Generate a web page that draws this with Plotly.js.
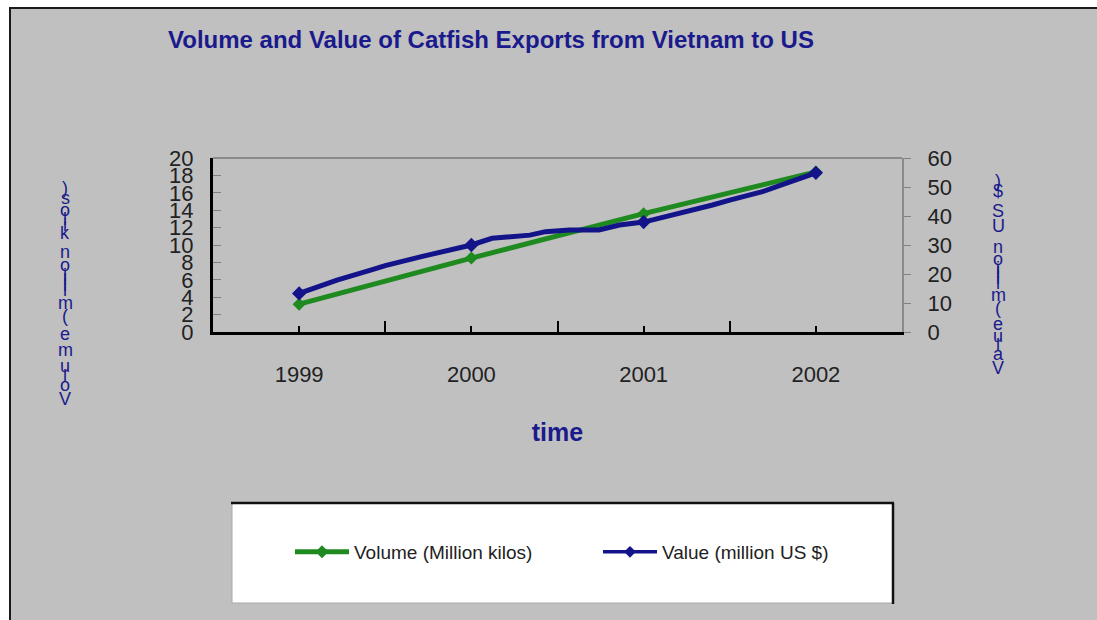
<!DOCTYPE html>
<html>
<head>
<meta charset="utf-8">
<script src="https://cdn.plot.ly/plotly-3.0.1.min.js"></script>
<style>
  html, body { margin: 0; padding: 0; background: #ffffff; }
  #chart { width: 1097px; height: 620px; }
</style>
</head>
<body>
<div id="chart"></div>
<script>
// ---------------- data ----------------
const years = [1999, 2000, 2001, 2002];
const yearLabels = ['1999', '2000', '2001', '2002'];
const volume = [3.2, 8.5, 13.6, 18.4];               // million kilos (left axis)
const valueTime = [1999.0, 1999.22, 1999.42, 1999.5, 1999.71, 2000.0, 2000.12, 2000.22,
                   2000.34, 2000.43, 2000.57, 2000.74, 2000.86, 2001.0, 2001.21, 2001.4,
                   2001.5, 2001.69, 2001.83, 2002.0];
const value = [13.3, 17.9, 21.4, 22.9, 26.0, 30.0, 32.3, 32.9, 33.4, 34.6, 35.2, 35.2,
               36.9, 37.9, 40.9, 43.8, 45.5, 48.4, 51.3, 54.9];  // million US $ (right axis)
const volumeName = 'Volume (Million kilos)';
const valueName = 'Value (million US $)';
const chartTitle = 'Volume and Value of Catfish Exports from Vietnam to US';
const xTitle = 'time';
const leftLabel = 'Volume (million kilos)';
const rightLabel = 'Value (million US $)';

// ---------------- geometry helpers ----------------
const W = 1097, H = 620;
const M = {l: 213, r: 195, t: 158, b: 288};
const PW = W - M.l - M.r, PH = H - M.t - M.b;
const px2x = p => (p - M.l) / PW;
const py2y = p => (H - M.b - p) / PH;

const GREEN = '#1f8a1f';
const BLUE = '#14148a';
const NAVY = '#1a1a8c';

// stacked (upright) glyphs running bottom-to-top, like the reference axis labels
const cvs = document.createElement('canvas').getContext('2d');
cvs.font = '100px "Liberation Sans"';
function glyphStack(text, cx, yStart, yEnd) {
  const chars = Array.from(text);
  const widths = chars.map(c => cvs.measureText(c).width);
  const total = widths.reduce((a, b) => a + b, 0);
  const k = (yStart - yEnd) / total;
  let cum = 0;
  const out = [];
  chars.forEach((c, i) => {
    const mid = yStart - (cum + widths[i] / 2) * k;
    cum += widths[i];
    if (c.trim() === '') return;
    out.push({
      text: c, xref: 'paper', yref: 'paper', x: px2x(cx), y: py2y(mid),
      xanchor: 'center', yanchor: 'middle', showarrow: false,
      font: {family: 'Liberation Sans', size: 18, color: NAVY}
    });
  });
  return out;
}

const traces = [
  {
    x: years, y: volume, name: volumeName, type: 'scatter', mode: 'lines+markers',
    line: {color: GREEN, width: 5},
    marker: {symbol: 'diamond', size: 10, color: GREEN, opacity: 1},
    yaxis: 'y', legendrank: 1
  },
  {
    x: valueTime, y: value, name: valueName, type: 'scatter', mode: 'lines+markers',
    line: {color: BLUE, width: 5},
    marker: {symbol: 'diamond', color: BLUE, opacity: 1, line: {width: 0},
             size: valueTime.map(t => Number.isInteger(t) ? 11 : 0)},
    yaxis: 'y2', showlegend: false, legendgroup: 'v'
  },
  {
    x: [null], y: [null], name: valueName, type: 'scatter', mode: 'lines+markers',
    line: {color: BLUE, width: 3.5},
    marker: {symbol: 'diamond', size: 9, color: BLUE, opacity: 1},
    yaxis: 'y2', legendgroup: 'v', legendrank: 2
  }
];

const tickFont = {family: 'Liberation Sans', size: 22, color: '#222222'};

const layout = {
  width: W, height: H,
  margin: M,
  paper_bgcolor: '#ffffff',
  plot_bgcolor: '#c0c0c0',
  showlegend: true,
  title: {
    text: chartTitle, x: 168 / W, xanchor: 'left', xref: 'container',
    y: 1 - 40 / H, yanchor: 'middle', yref: 'container',
    font: {family: 'Liberation Sans', size: 24, color: NAVY, weight: 'bold'}
  },
  xaxis: {
    range: [1998.5, 2002.5], tickmode: 'array', tickvals: years, ticktext: yearLabels,
    ticks: 'inside', ticklen: 6, tickwidth: 2, tickcolor: '#000000',
    minor: {tickmode: 'linear', tick0: 1998.5, dtick: 1, ticks: 'inside', ticklen: 11,
            tickwidth: 2, tickcolor: '#000000'},
    showline: true, linecolor: '#000000', linewidth: 3, showgrid: false, zeroline: false,
    tickfont: tickFont, ticklabelstandoff: 21,
    title: {text: xTitle, standoff: 38,
            font: {family: 'Liberation Sans', size: 25, color: NAVY, weight: 'bold'}}
  },
  yaxis: {
    range: [0, 20], tickmode: 'linear', tick0: 0, dtick: 2,
    ticks: 'inside', ticklen: 8, tickwidth: 1, tickcolor: '#808080',
    showline: true, linecolor: '#000000', linewidth: 3, showgrid: false, zeroline: false,
    tickfont: tickFont, ticklabelstandoff: 12
  },
  yaxis2: {
    range: [0, 60], tickmode: 'linear', tick0: 0, dtick: 10, overlaying: 'y', side: 'right',
    ticks: 'outside', ticklen: 7, tickwidth: 1, tickcolor: '#808080',
    showline: true, linecolor: '#8a8a8a', linewidth: 2, showgrid: false, zeroline: false,
    tickfont: tickFont, ticklabelstandoff: 12
  },
  legend: {
    orientation: 'h', x: px2x(290), xanchor: 'left', y: py2y(552), yanchor: 'middle',
    bgcolor: 'rgba(0,0,0,0)', borderwidth: 0, itemwidth: 54,
    entrywidth: 239, entrywidthmode: 'pixels',
    font: {family: 'Liberation Sans', size: 19, color: '#222222'},
    traceorder: 'normal'
  },
  shapes: [
    // grey chart area with dark border (top / left visible)
    {type: 'rect', xref: 'paper', yref: 'paper', layer: 'below',
     x0: px2x(10), x1: px2x(1120), y0: py2y(640), y1: py2y(8),
     fillcolor: '#c0c0c0', line: {color: '#1a1a1a', width: 2}},
    // legend box
    {type: 'rect', xref: 'paper', yref: 'paper', layer: 'below',
     x0: px2x(232), x1: px2x(893), y0: py2y(603), y1: py2y(503),
     fillcolor: '#ffffff', line: {color: '#a8a8a8', width: 1}},
    {type: 'line', xref: 'paper', yref: 'paper', layer: 'below',
     x0: px2x(231), x1: px2x(894), y0: py2y(503), y1: py2y(503),
     line: {color: '#111111', width: 2.5}},
    {type: 'line', xref: 'paper', yref: 'paper', layer: 'below',
     x0: px2x(893), x1: px2x(893), y0: py2y(604), y1: py2y(503),
     line: {color: '#111111', width: 2.5}},
    // top border of plot area
    {type: 'line', xref: 'paper', yref: 'paper', layer: 'above',
     x0: 0, x1: 1, y0: 1, y1: 1, line: {color: '#8a8a8a', width: 2}}
  ],
  annotations: [
    ...glyphStack(leftLabel, 65, 407, 184),
    ...glyphStack(rightLabel, 998, 375, 177)
  ]
};

Plotly.newPlot('chart', traces, layout, {displayModeBar: false, staticPlot: true});
</script>
</body>
</html>
